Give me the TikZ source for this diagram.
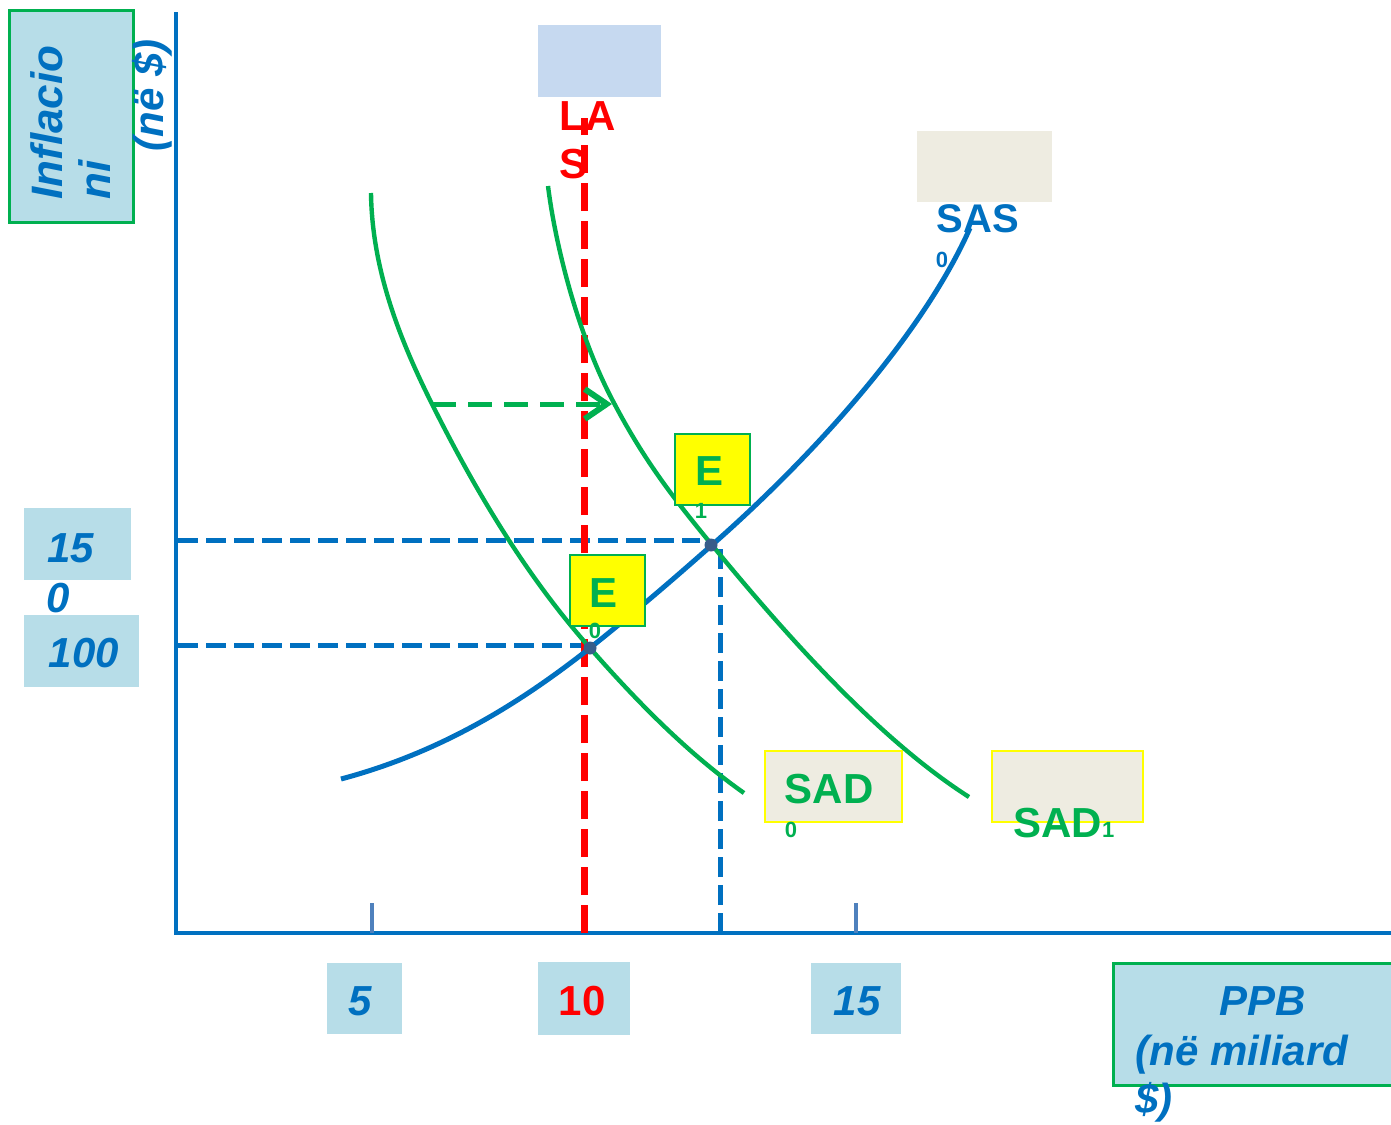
\documentclass[tikz,border=0pt]{standalone}
\usepackage{fontspec}
\setmainfont{Liberation Sans}
\usetikzlibrary{arrows.meta}
\definecolor{myblue}{HTML}{0070C0}
\definecolor{mygreen}{HTML}{00B050}
\definecolor{myred}{HTML}{FF0000}
\definecolor{myyellow}{HTML}{FFFF00}
\definecolor{lblue}{HTML}{B7DDE8}
\definecolor{lasbox}{HTML}{C6D9F0}
\definecolor{beige}{HTML}{EEECE1}
\definecolor{tickc}{HTML}{4F81BD}
\definecolor{dotc}{HTML}{385D8A}
\tikzset{
  valbox/.style={fill=lblue, inner sep=0pt},
  beigebox/.style={fill=beige, inner sep=0pt},
  ebox/.style={fill=myyellow, draw=mygreen, line width=1pt, inner sep=0pt, minimum width=37.5pt, minimum height=35.5pt},
  big/.style={font=\bfseries\fontsize{21}{25}\selectfont, inner sep=0pt, anchor=base},
  bigit/.style={font=\bfseries\itshape\fontsize{21}{25}\selectfont, inner sep=0pt, anchor=base, text=myblue},
  small/.style={font=\bfseries\fontsize{11}{13}\selectfont, inner sep=0pt, anchor=base},
  axisline/.style={myblue, line width=2pt},
  bdash/.style={myblue, line width=2.5pt, dash pattern=on 10pt off 4pt},
  rdash/.style={myred, line width=3.5pt, dash pattern=on 14pt off 5pt},
  gcurve/.style={mygreen, line width=2.2pt},
  dotn/.style={circle, fill=dotc, inner sep=0pt, minimum size=6.5pt},
}
\begin{document}
\begin{tikzpicture}[x=0.5pt,y=-0.5pt]
\useasboundingbox (0,0) rectangle (1391,1124);
% label boxes
\node[valbox, draw=mygreen, line width=1.5pt, minimum width=62pt, minimum height=106pt] (ylab) at (71,116) {};
\node[fill=lasbox, inner sep=0pt, minimum width=61.5pt, minimum height=36pt] (lasb) at (599.5,61) {};
\node[beigebox, minimum width=67.5pt, minimum height=35.5pt] (sasb) at (984.5,166.5) {};
\node[beigebox, draw=myyellow, line width=0.9pt, minimum width=68.5pt, minimum height=35.5pt] (sad0b) at (833.5,786.5) {};
\node[beigebox, draw=myyellow, line width=0.9pt, minimum width=75.5pt, minimum height=35.5pt] (sad1b) at (1067.5,786.5) {};
\node[valbox, minimum width=53.5pt, minimum height=36pt] (b150) at (77.5,544) {};
\node[valbox, minimum width=57.5pt, minimum height=36pt] (b100) at (81.5,651) {};
\node[valbox, minimum width=37.5pt, minimum height=35.5pt] (b5) at (364.5,998.5) {};
\node[valbox, minimum width=46pt, minimum height=36.5pt] (b10) at (584,998.5) {};
\node[valbox, minimum width=45pt, minimum height=35.5pt] (b15) at (856,998.5) {};
\node[valbox, draw=mygreen, line width=1.5pt, minimum width=140pt, minimum height=61pt] (ppbb) at (1253,1024) {};
% axes
\coordinate (O) at (176,933);
\coordinate (ytop) at (176,12);
\coordinate (xend) at (1391,933);
\draw[axisline] (ytop) -- (O) -- (xend);
\coordinate (t5a) at (372,903); \coordinate (t5b) at (372,933);
\coordinate (t15a) at (856,903); \coordinate (t15b) at (856,933);
\draw[tickc, line width=2pt] (t5a) -- (t5b);
\draw[tickc, line width=2pt] (t15a) -- (t15b);
% dashed guides
\coordinate (h150a) at (178,540); \coordinate (h150b) at (700,540);
\coordinate (h100a) at (178,645); \coordinate (h100b) at (590,645);
\coordinate (v1a) at (720,548); \coordinate (v1b) at (720,933);
\draw[bdash] (h150a) -- (h150b);
\draw[bdash] (h100a) -- (h100b);
\draw[bdash] (v1b) -- (v1a);
% LAS
\coordinate (lasA) at (584,118); \coordinate (lasB) at (584,933);
\draw[rdash] (lasB) -- (lasA);
% curves
\draw[myblue, line width=2.5pt] (341,779) .. controls (450,750) and (530,695) .. (590,648)
  .. controls (640,608) and (670,582) .. (712,545)
  .. controls (820,450) and (925,330) .. (970,228);
\draw[gcurve] (371,193) .. controls (372,270) and (400,340) .. (432,404)
  .. controls (480,500) and (530,580) .. (590,648)
  .. controls (640,705) and (690,755) .. (744,793);
\draw[gcurve] (548,186) .. controls (556,250) and (580,340) .. (614,403)
  .. controls (645,462) and (675,500) .. (712,545)
  .. controls (790,640) and (880,740) .. (969,797);
% shift arrow
\coordinate (arrS) at (432,404); \coordinate (arrE) at (612,404);
\draw[mygreen, line width=2.5pt, dash pattern=on 12pt off 6pt, -{Straight Barb[length=11pt, width=15pt, line width=3pt]}] (arrS) -- (arrE);
% equilibrium boxes and dots
\node[ebox] (e0b) at (607,590.5) {};
\node[ebox] (e1b) at (712.5,469.5) {};
\node[dotn] (d0) at (590,648) {};
\node[dotn] (d1) at (711,545) {};
% texts
\node[rotate=90, anchor=base west, inner sep=0pt, text=myblue, font=\bfseries\itshape\fontsize{22}{26}\selectfont] (tinfl) at (62,200) {Inflacio};
\node[rotate=90, anchor=base west, inner sep=0pt, text=myblue, font=\bfseries\itshape\fontsize{22}{26}\selectfont] (tni) at (110,200) {ni};
\node[rotate=90, anchor=base west, inner sep=0pt, text=myblue, font=\bfseries\itshape\fontsize{21}{25}\selectfont] (tne) at (163,152) {(në \$)};
\node[big, anchor=base west, text=myred] (tla) at (559,130) {LA};
\node[big, anchor=base west, text=myred] (ts) at (559,178) {S};
\node[big, text=myblue, font=\bfseries\fontsize{20}{24}\selectfont] (tsas) at (978,232) {SAS};
\node[small, text=myblue] (tsas0) at (942,267) {0};
\node[big, text=mygreen] (tsad0) at (829,803) {SAD};
\node[small, text=mygreen] (tsad00) at (791,837) {0};
\node[big, anchor=base west, text=mygreen] (tsad1) at (1013,837) {SAD{\fontsize{11}{13}\selectfont 1}};
\node[big, text=mygreen] (te0) at (603,607) {E};
\node[small, text=mygreen] (te00) at (595,638) {0};
\node[big, text=mygreen] (te1) at (709,485) {E};
\node[small, text=mygreen] (te11) at (701,518) {1};
\node[bigit] (t15) at (71,562) {15};
\node[bigit] (t150) at (58,612) {0};
\node[bigit] (t100) at (84,667) {100};
\node[bigit] (tx5) at (360,1015) {5};
\node[big, text=myred] (tx10) at (582,1015) {10};
\node[bigit] (tx15) at (857,1015) {15};
\node[bigit] (tppb) at (1263,1015) {PPB};
\node[bigit] (tppb2) at (1242,1065) {(në miliard};
\node[bigit, anchor=base west] (tppb3) at (1135,1113) {\$)};
\end{tikzpicture}
\end{document}
